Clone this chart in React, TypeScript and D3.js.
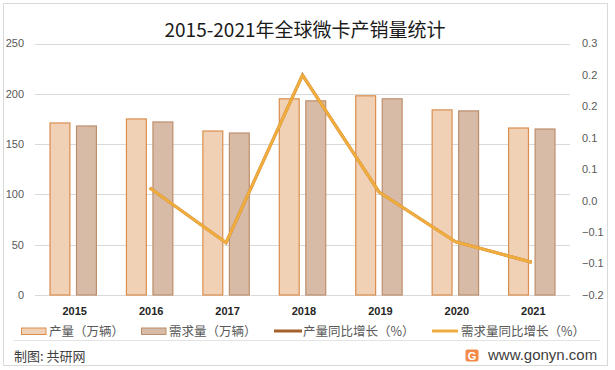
import * as d3 from "d3";
import { useEffect, useRef } from "react";

const years = ["2015", "2016", "2017", "2018", "2019", "2020", "2021"];
const production = [171, 175, 163, 195, 198, 184, 166];
const demand = [168, 172, 161, 193, 195, 183, 165];
// growth rates start in 2016
const growthYears = ["2016", "2017", "2018", "2019", "2020", "2021"];
const productionGrowth = [0.013, -0.096, 0.237, 0.005, -0.094, -0.135];
const demandGrowth = [0.013, -0.096, 0.237, 0.005, -0.094, -0.135];
const leftTicks = [0, 50, 100, 150, 200, 250];
const rightTicks = [-0.2, -0.1375, -0.075, -0.0125, 0.05, 0.1125, 0.175, 0.2375, 0.3];

const seriesNames = ["产量（万辆）", "需求量（万辆）", "产量同比增长（%）", "需求量同比增长（%）"];

const App = () => {
  const ref = useRef<SVGSVGElement>(null);

  useEffect(() => {
    const svg = d3.select(ref.current);
    svg.selectAll("*").remove();

    const W = 615, H = 370;
    const margin = { top: 43.5, left: 35, right: 45, bottom: 75 };
    const plotBottom = H - margin.bottom;
    const cjk = "'Noto Sans CJK SC', 'Noto Sans', sans-serif";
    const num = "'Liberation Sans', Arial, sans-serif";

    // frame
    svg.append("rect")
      .attr("x", 3.5).attr("y", 3.5)
      .attr("width", 604).attr("height", 362)
      .attr("fill", "#fff")
      .attr("stroke", "#d9d9d9");

    const x = d3.scaleBand()
      .domain(years)
      .range([margin.left, W - margin.right]);
    const xIn = d3.scaleBand()
      .domain(["p", "d"])
      .range([-23.2, 23.2])
      .paddingInner(0.25);
    const y = d3.scaleLinear().domain([0, 250]).range([plotBottom, margin.top]);
    const y2 = d3.scaleLinear().domain([-0.2, 0.3]).range([plotBottom, margin.top]);

    // grid
    svg.append("g")
      .selectAll("line")
      .data(leftTicks)
      .enter()
      .append("line")
      .attr("x1", margin.left)
      .attr("x2", W - margin.right)
      .attr("y1", (d) => Math.round(y(d)) + 0.5)
      .attr("y2", (d) => Math.round(y(d)) + 0.5)
      .attr("stroke", "#d9d9d9");

    // left labels
    svg.append("g")
      .selectAll("text")
      .data(leftTicks)
      .enter()
      .append("text")
      .attr("x", 24)
      .attr("y", (d) => y(d))
      .attr("dy", "0.35em")
      .attr("text-anchor", "end")
      .style("font-family", num)
      .style("font-size", "11px")
      .attr("fill", "#595959")
      .text((d) => d);

    // right labels
    svg.append("g")
      .selectAll("text")
      .data(rightTicks)
      .enter()
      .append("text")
      .attr("x", 582)
      .attr("y", (d) => y2(d))
      .attr("dy", "0.35em")
      .style("font-family", num)
      .style("font-size", "11px")
      .attr("fill", "#595959")
      .text((d) => d3.format(".1f")(d));

    // bars
    const cx = (yr: string) => (x(yr) as number) + x.bandwidth() / 2;
    const bars = svg.append("g");
    bars.selectAll("rect.p")
      .data(years)
      .enter()
      .append("rect")
      .attr("class", "p")
      .attr("x", (d) => cx(d) + (xIn("p") as number))
      .attr("y", (d, i) => y(production[i]))
      .attr("width", xIn.bandwidth())
      .attr("height", (d, i) => plotBottom - y(production[i]))
      .attr("fill", "#F0D1B6")
      .attr("stroke", "#DA8E4E")
      .attr("stroke-width", 1.2);
    bars.selectAll("rect.d")
      .data(years)
      .enter()
      .append("rect")
      .attr("class", "d")
      .attr("x", (d) => cx(d) + (xIn("d") as number))
      .attr("y", (d, i) => y(demand[i]))
      .attr("width", xIn.bandwidth())
      .attr("height", (d, i) => plotBottom - y(demand[i]))
      .attr("fill", "#D7BBA6")
      .attr("stroke", "#BE8E6B")
      .attr("stroke-width", 1.2);

    // lines
    const line = d3.line<number>()
      .x((d, i) => cx(growthYears[i]))
      .y((d) => y2(d));
    svg.append("path")
      .datum(productionGrowth)
      .attr("d", line)
      .attr("fill", "none")
      .attr("stroke", "#A5612C")
      .attr("stroke-width", 3);
    svg.append("path")
      .datum(demandGrowth)
      .attr("d", line)
      .attr("fill", "none")
      .attr("stroke", "#F0AD3E")
      .attr("stroke-width", 3)
      .attr("stroke-linejoin", "round");

    // year labels
    svg.append("g")
      .selectAll("text")
      .data(years)
      .enter()
      .append("text")
      .attr("x", (d) => cx(d) + 1.5)
      .attr("y", 311.5)
      .attr("dy", "0.35em")
      .attr("text-anchor", "middle")
      .style("font-family", num)
      .style("font-size", "11px")
      .style("font-weight", "bold")
      .attr("fill", "#262626")
      .text((d) => d);

    // title
    svg.append("text")
      .attr("x", 305)
      .attr("y", 37)
      .attr("text-anchor", "middle")
      .style("font-family", cjk)
      .style("font-size", "19px")
      .attr("fill", "#1a1a1a")
      .text("2015-2021年全球微卡产销量统计");

    // legend
    const legendX = [21.5, 141.5, 274, 432];
    const lg = svg.append("g");
    lg.append("rect").attr("x", legendX[0]).attr("y", 328).attr("width", 24.5).attr("height", 6.5)
      .attr("fill", "#F0D1B6").attr("stroke", "#DA8E4E");
    lg.append("rect").attr("x", legendX[1]).attr("y", 328).attr("width", 24.5).attr("height", 6.5)
      .attr("fill", "#D7BBA6").attr("stroke", "#BE8E6B");
    lg.append("line").attr("x1", legendX[2]).attr("x2", legendX[2] + 28).attr("y1", 331).attr("y2", 331)
      .attr("stroke", "#A5612C").attr("stroke-width", 3);
    lg.append("line").attr("x1", legendX[3]).attr("x2", legendX[3] + 26).attr("y1", 331).attr("y2", 331)
      .attr("stroke", "#F0AD3E").attr("stroke-width", 3);
    lg.selectAll("text")
      .data(seriesNames)
      .enter()
      .append("text")
      .attr("x", (d, i) => legendX[i] + (i < 2 ? 27.5 : 29))
      .attr("y", 331.5)
      .attr("dy", "0.35em")
      .style("font-family", cjk)
      .style("font-size", "12.5px")
      .attr("fill", "#595959")
      .text((d) => d);

    // footer
    svg.append("line")
      .attr("x1", 14).attr("x2", 600)
      .attr("y1", 340.5).attr("y2", 340.5)
      .attr("stroke", "#e3e3e3");
    svg.append("text")
      .attr("x", 14)
      .attr("y", 361)
      .style("font-family", cjk)
      .style("font-size", "13px")
      .attr("fill", "#404040")
      .text("制图: 共研网");
    svg.append("rect")
      .attr("x", 465.5).attr("y", 349.5)
      .attr("width", 13).attr("height", 12)
      .attr("rx", 2)
      .attr("fill", "#F28A4A");
    svg.append("text")
      .attr("x", 472)
      .attr("y", 359.5)
      .attr("text-anchor", "middle")
      .style("font-family", num)
      .style("font-size", "11px")
      .style("font-weight", "bold")
      .attr("fill", "#fff")
      .text("G");
    svg.append("text")
      .attr("x", 488)
      .attr("y", 360)
      .style("font-family", num)
      .style("font-size", "15px")
      .attr("fill", "#404040")
      .text("www.gonyn.com");
  }, []);

  return (
    <div className="plot">
      <svg ref={ref} width={615} height={370}
        style={{ position: "absolute", left: 0, top: 0, background: "#fff" }} />
    </div>
  );
};

export default App;
